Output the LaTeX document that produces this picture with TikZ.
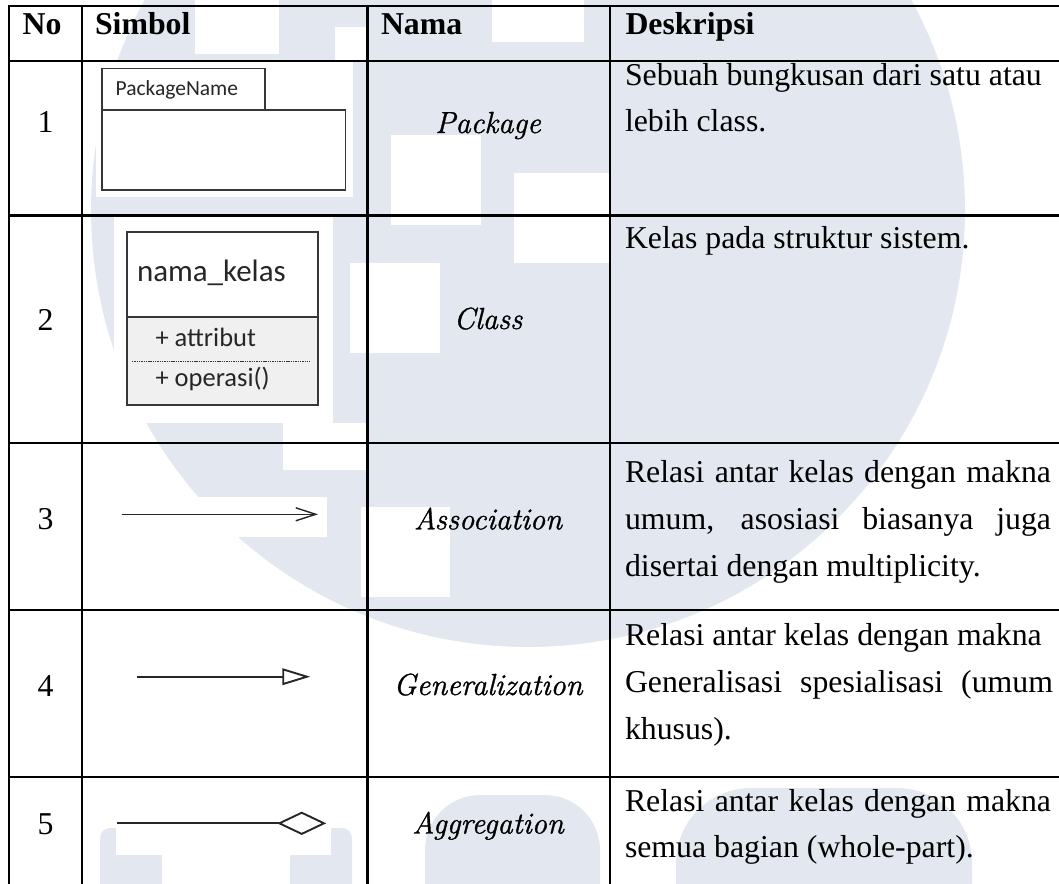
\documentclass[tikz,border=0pt]{standalone}
\usepackage{fontspec}
\setmainfont{Liberation Serif}
\newfontfamily\uifont{Carlito}
\newfontfamily\namafont{Latin Modern Roman}[ItalicFeatures={FakeBold=1.1}]
\usetikzlibrary{arrows.meta}

\definecolor{wm}{RGB}{227,232,240}
\definecolor{umlline}{RGB}{55,55,55}
\definecolor{umlfill}{RGB}{240,240,240}

\newcommand\bodysize{\fontsize{31.8}{38}\selectfont}

\begin{document}
\begin{tikzpicture}[x=1pt,y=-1pt,
  txt/.style={inner sep=0pt, outer sep=0pt, font=\bodysize},
  head/.style={txt, anchor=base west, font=\bodysize\bfseries},
  num/.style={txt, anchor=base},
  nama/.style={txt, anchor=base, font=\namafont\fontsize{30.5}{36}\selectfont\itshape},
  desc/.style={txt, anchor=base west},
  uml/.style={inner sep=0pt, outer sep=0pt, anchor=base west, text=black!85},
  rulebox/.style={line width=2.8pt, line cap=rect},
  umlbox/.style={draw=umlline, line width=1.6pt},
  relation/.style={draw=black!85, line width=1.9pt},
  whitebg/.style={fill=white}
]
\useasboundingbox (0,0) rectangle (1059,883);

% ---- faint background logo
\begin{scope}
  \clip (0,0) rectangle (1059,883);
  \fill[wm] (528,210) circle[radius=437];
  \fill[white] (195,0) rectangle (279,54);
  \fill[white] (335,27) rectangle (367,62);
  \fill[white] (492,0) rectangle (584,42);
  \fill[white] (391,135) rectangle (481,225);
  \fill[white] (514,173) rectangle (610,263);
  \fill[white] (350,263) rectangle (440,353);
  \fill[white] (361,507) rectangle (450,597);
  \fill[white] (283,423) rectangle (367,470);
  % lettering along the bottom edge
  \fill[wm, rounded corners=10pt] (100,900) -- (100,828) -- (162,828) -- (162,900);
  \fill[wm, rounded corners=10pt] (290,900) -- (290,828) -- (352,828) -- (352,900);
  \fill[wm, rounded corners=55pt] (425,930) -- (425,795) -- (600,795) -- (600,930);
  \fill[wm, rounded corners=75pt] (676,930) -- (676,788) -- (972,788) -- (972,930);
\end{scope}

% ---- white grounds of the symbol drawings
\fill[whitebg] (96,62) rectangle (353,197);
\fill[whitebg] (114,215) rectangle (333,423);
\fill[whitebg] (117,497) rectangle (327,537);
\fill[whitebg] (116,816) rectangle (331,855);

% ---- header
\node[head] (hNo)   at (22.6,35) {No};
\node[head] (hSim)  at (95,35)   {Simbol};
\node[head] (hNama) at (381,35)  {Nama};
\node[head] (hDesk) at (625.5,35) {Deskripsi};

% ---- row 1: package
\draw[umlbox, line width=1.3pt] (102,68.3) rectangle (265,110);
\draw[umlbox, line width=1.3pt] (102,110) rectangle (345.5,190);
\node[uml, font=\uifont\fontsize{21.5}{24}\selectfont] (pkgname) at (115.6,95) {PackageName};
\node[num]  (n1) at (45.5,132) {1};
\node[nama] (m1) at (488,133) {Package};
\node[desc] (d1a) at (625,85)    {Sebuah bungkusan dari satu atau};
\node[desc] (d1b) at (625,131.7) {lebih class.};

% ---- row 2: class
\fill[umlfill] (126.8,316.7) rectangle (317.8,405);
\draw[umlbox] (126.8,231.7) rectangle (317.8,405);
\draw[umlbox] (126.8,316.7) -- (317.8,316.7);
\draw[draw=black!80, line width=0.9pt, dash pattern=on 1.4pt off 0.9pt] (132,361) -- (310,361);
\node[uml, font=\uifont\fontsize{31}{34}\selectfont] (cname) at (137,281.7) {nama\_kelas};
\node[uml, font=\uifont\fontsize{26.5}{30}\selectfont] (cattr) at (155.5,346.7) {+ attribut};
\node[uml, font=\uifont\fontsize{26.5}{30}\selectfont] (cop)   at (155.5,386.7) {+ operasi()};
\node[num]  (n2) at (45.5,330) {2};
\node[nama] (m2) at (488,329) {Class};
\node[desc] (d2a) at (625,248.3) {Kelas pada struktur sistem.};

% ---- row 3: association
\coordinate (a3s) at (121.7,514.3);
\coordinate (a3e) at (318,514.3);
\draw[relation, line width=1.4pt, -{Straight Barb[length=20pt,width=13pt,line width=1.4pt]}] (a3s) -- (a3e);
\node[num]  (n3) at (45.5,529) {3};
\node[nama] (m3) at (488,529.3) {Association};
\node[desc] (d3a) at (625,482.7) {\makebox[426pt][s]{Relasi antar kelas dengan makna}};
\node[desc] (d3b) at (625,529.3) {\makebox[426pt][s]{umum, asosiasi biasanya juga}};
\node[desc] (d3c) at (625,576)   {disertai dengan multiplicity.};

% ---- row 4: generalization
\coordinate (a4s) at (137,676.7);
\coordinate (a4e) at (310.3,676.7);
\draw[relation, -{Triangle[open,length=28pt,width=16.6pt]}] (a4s) -- (a4e);
\node[num]  (n4) at (45.5,696) {4};
\node[nama] (m4) at (488,695) {Generalization};
\node[desc] (d4a) at (625,645)  {Relasi antar kelas dengan makna};
\node[desc] (d4b) at (625,692)  {\makebox[428pt][s]{Generalisasi spesialisasi (umum}};
\node[desc] (d4c) at (625,739)  {khusus).};

% ---- row 5: aggregation
\coordinate (a5s) at (116.6,823.3);
\coordinate (a5e) at (326.2,823.3);
\draw[relation, -{Diamond[open,length=49pt,width=23.3pt]}] (a5s) -- (a5e);
\node[num]  (n5) at (45.5,834) {5};
\node[nama] (m5) at (488,833.5) {Aggregation};
\node[desc] (d5a) at (625,811)   {\makebox[426pt][s]{Relasi antar kelas dengan makna}};
\node[desc] (d5b) at (625,857)   {semua bagian (whole-part).};

% ---- table rules
\foreach \yy in {6,61,215.5,443,610,777}
  \draw[rulebox] (9,\yy) -- (1062,\yy);
\foreach \xx in {9,82,367.5,610}
  \draw[rulebox] (\xx,6) -- (\xx,886);
\end{tikzpicture}
\end{document}
